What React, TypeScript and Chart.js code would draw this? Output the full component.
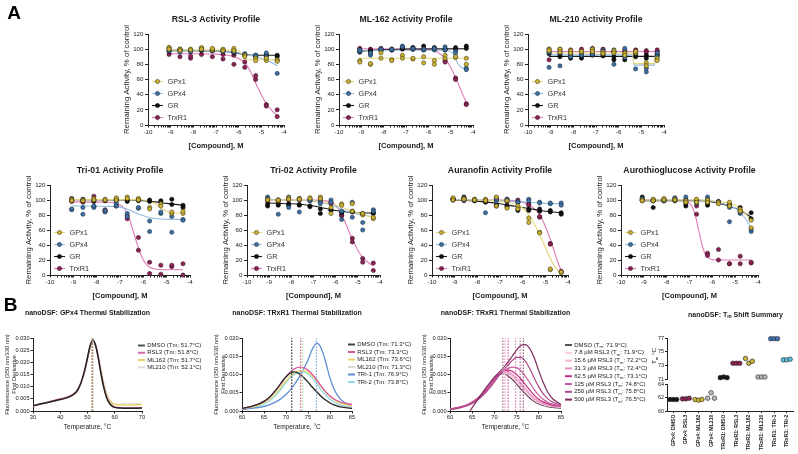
import React, { useEffect, useRef } from "react";
import { Chart, registerables } from "chart.js";

Chart.register(...registerables);

const PAGE_W = 798;
const PAGE_H = 454;
const FF = "'Liberation Sans', Arial, Helvetica, sans-serif";
const INK = "#1a1a1a";

// ================= Panel A data =================
const LOGC = [-9.07, -8.59, -8.12, -7.64, -7.16, -6.69, -6.21, -5.73, -5.25, -4.78, -4.3];
const ENZYMES = ["GPx1", "GPx4", "GR", "TrxR1"];
const ENZ_LINE = ["#e6d577", "#94bde3", "#1a1a1a", "#e07ab6"];
const ENZ_FILL = ["#c9b236", "#3f6f9f", "#111111", "#8b2355"];
const ENZ_EDGE = ["#4d4210", "#1c3550", "#000000", "#3d0d25"];
const X_MAJOR = [-10, -9, -8, -7, -6, -5, -4];
const X_MINOR_STEPS = [2, 3, 4, 5, 6, 7, 8, 9];
const Y_ACT_TICKS = [0, 20, 40, 60, 80, 100, 120];

// RSL-3
const RSL3_GPX1 = [[102, 100], [100, 98], [100, 99], [102, 100], [99, 101], [100, 98], [101, 98], [92, 90], [88, 85], [85, 88], [86, 84]];
const RSL3_GPX4 = [[100, 98], [96, 99], [98, 97], [101, 99], [98, 100], [97, 99], [96, 99], [94, 92], [90, 92], [95, 90], [68, 85]];
const RSL3_GR = [[99, 97], [98, 100], [99, 97], [100, 98], [98, 99], [97, 98], [96, 95], [93, 92], [92, 91], [93, 91], [92, 90]];
const RSL3_TRXR1 = [[93, 102], [90, 99], [88, 91], [93, 101], [90, 98], [87, 93], [80, 92], [76, 83], [60, 65], [27, 25], [11, 20]];
const RSL3_GPX1_FIT = [[-9.07, 99], [-8, 99], [-7, 99], [-6.3, 99], [-6.0, 98], [-5.85, 93], [-5.7, 87], [-5.5, 86], [-5, 86], [-4.3, 86]];
const RSL3_GPX4_FIT = [[-9.07, 99], [-8, 98.5], [-7, 97.5], [-6.5, 96.5], [-6, 95], [-5.5, 92], [-5, 88], [-4.6, 83], [-4.3, 78]];
const RSL3_GR_FIT = [[-9.07, 98], [-8, 98], [-7, 97.5], [-6.5, 96.5], [-6, 94.5], [-5.7, 93], [-5.3, 92], [-4.3, 92]];
const RSL3_TRXR1_FIT = [[-9.07, 94], [-8, 94], [-7, 93.5], [-6.5, 92], [-6.2, 90], [-5.9, 86], [-5.7, 81], [-5.5, 72], [-5.25, 55], [-5.0, 40], [-4.8, 29], [-4.5, 18], [-4.3, 13]];

// ML-162
const ML162_GPX1 = [[85, 83], [80, 81], [88, 95], [86, 85], [92, 88], [87, 88], [82, 90], [80, 85], [88, 92], [89, 90], [88, 80]];
const ML162_GPX4 = [[97, 99], [92, 95], [98, 100], [99, 100], [104, 103], [100, 101], [99, 100], [99, 101], [103, 99], [97, 95], [75, 73]];
const ML162_GR = [[96, 98], [95, 97], [98, 100], [99, 100], [101, 102], [102, 100], [104, 100], [101, 102], [99, 100], [100, 102], [104, 101]];
const ML162_TRXR1 = [[101, 100], [100, 99], [101, 100], [100, 99], [100, 101], [102, 100], [100, 99], [100, 101], [85, 83], [62, 60], [28, 27]];
const ML162_GPX1_FIT = [[-9.07, 88], [-6.5, 88], [-4.3, 88]];
const ML162_GPX4_FIT = [[-9.07, 98.5], [-5.5, 98.5], [-5.1, 98], [-4.9, 94], [-4.75, 85], [-4.6, 78], [-4.45, 75], [-4.3, 74.5]];
const ML162_GR_FIT = [[-9.07, 97], [-8.5, 98.5], [-8, 99.5], [-7, 100], [-4.3, 100.5]];
const ML162_TRXR1_FIT = [[-9.07, 100.5], [-6, 100], [-5.7, 98], [-5.4, 92], [-5.1, 81], [-4.9, 70], [-4.7, 57], [-4.5, 43], [-4.3, 30]];

// ML-210
const ML210_GPX1 = [[100, 98], [100, 96], [98, 95], [96, 97], [100, 97], [96, 94], [98, 95], [95, 92], [95, 97], [82, 78], [88, 85]];
const ML210_GPX4 = [[76, 96], [78, 95], [94, 90], [92, 96], [100, 93], [98, 95], [80, 99], [89, 101], [74, 95], [70, 75], [95, 90]];
const ML210_GR = [[94, 97], [90, 93], [88, 92], [88, 91], [92, 94], [91, 93], [86, 90], [86, 92], [90, 93], [92, 88], [94, 92]];
const ML210_TRXR1 = [[86, 100], [98, 100], [99, 96], [100, 96], [101, 99], [99, 100], [96, 97], [98, 96], [99, 98], [98, 96], [97, 99]];
const ML210_GPX1_FIT = [[-9.07, 95], [-5.45, 95], [-5.37, 94], [-5.33, 81], [-4.42, 81], [-4.38, 94], [-4.3, 95]];
const ML210_GPX4_FIT = [[-9.07, 92.5], [-5.45, 92.5], [-5.37, 91.5], [-5.33, 79], [-4.42, 79], [-4.38, 91.5], [-4.3, 92.5]];
const ML210_GR_FIT = [[-9.07, 90.5], [-6.5, 90.5], [-4.3, 90.5]];
const ML210_TRXR1_FIT = [[-9.07, 97], [-6.5, 97], [-4.3, 97]];

// Tri-01
const TRI01_GPX1 = [[101, 99], [100, 99], [102, 100], [101, 100], [103, 100], [104, 102], [102, 100], [90, 88], [95, 92], [82, 84], [82, 85]];
const TRI01_GPX4 = [[87, 88], [81, 90], [90, 92], [84, 86], [96, 92], [82, 78], [89, 90], [72, 58], [82, 84], [57, 78], [74, 73]];
const TRI01_GR = [[102, 100], [101, 99], [100, 98], [100, 99], [101, 100], [100, 98], [101, 99], [98, 100], [97, 99], [101, 94], [93, 90]];
const TRI01_TRXR1 = [[99, 98], [97, 99], [105, 91], [87, 85], [99, 92], [75, 79], [50, 33], [17, 2], [13, 1], [11, 13], [15, 0]];
const TRI01_GPX1_FIT = [[-9.07, 100.5], [-6.5, 100.5], [-6, 100], [-5.7, 98], [-5.4, 93], [-5.2, 88], [-5.0, 85], [-4.7, 83], [-4.3, 82.5]];
const TRI01_GPX4_FIT = [[-9.07, 92], [-7.5, 91.5], [-7, 90.5], [-6.7, 88], [-6.4, 84], [-6.1, 80], [-5.8, 77], [-5.4, 75], [-4.3, 74]];
const TRI01_GR_FIT = [[-9.07, 100.5], [-6.5, 100], [-6, 99], [-5.5, 97.5], [-5, 95.5], [-4.3, 93]];
const TRI01_TRXR1_FIT = [[-9.07, 97.5], [-7.5, 97], [-7.1, 95], [-6.8, 88], [-6.6, 75], [-6.4, 55], [-6.2, 35], [-6.0, 20], [-5.8, 12], [-5.5, 8], [-5, 7], [-4.3, 7]];

// Tri-02
const TRI02_GPX1 = [[101, 100], [99, 100], [103, 101], [102, 101], [103, 102], [104, 102], [90, 82], [95, 93], [95, 85], [80, 82], [75, 77]];
const TRI02_GPX4 = [[104, 102], [81, 100], [90, 104], [84, 102], [101, 99], [98, 95], [100, 97], [74, 85], [97, 77], [70, 60], [87, 85]];
const TRI02_GR = [[92, 95], [93, 95], [95, 93], [93, 94], [92, 91], [82, 88], [87, 86], [83, 84], [84, 85], [82, 81], [83, 82]];
const TRI02_TRXR1 = [[99, 100], [100, 98], [102, 100], [101, 100], [100, 99], [102, 99], [97, 95], [79, 80], [49, 44], [22, 17], [16, 6]];
const TRI02_GPX1_FIT = [[-9.07, 100], [-7.5, 100], [-7, 99], [-6.5, 97], [-6, 93], [-5.5, 88], [-5, 83], [-4.6, 79], [-4.3, 77]];
const TRI02_GPX4_FIT = [[-9.07, 101], [-8, 100], [-7, 98.5], [-6.5, 96], [-6, 91], [-5.5, 85], [-5, 81], [-4.6, 79], [-4.3, 78.5]];
const TRI02_GR_FIT = [[-9.07, 96], [-8, 95], [-7.5, 94], [-7, 92], [-6.5, 89], [-6, 86], [-5.5, 84], [-5, 83], [-4.3, 82.5]];
const TRI02_TRXR1_FIT = [[-9.07, 100], [-7, 100], [-6.5, 99], [-6.2, 97], [-6, 93], [-5.8, 84], [-5.6, 72], [-5.4, 58], [-5.2, 45], [-5.0, 33], [-4.8, 24], [-4.5, 16], [-4.3, 12]];

// Auranofin
const AUR_GPX1 = [[103, 100], [102, 101], [101, 100], [101, 99], [104, 92], [99, 89], [92, 88], [76, 70], [57, 56], [7, 8], [3, 4]];
const AUR_GPX4 = [[102, 101], [103, 100], [101, 100], [83, 100], [98, 101], [99, 101], [98, 97], [101, 99], [97, 96], [95, 96], [96, 93]];
const AUR_GR = [[101, 100], [104, 102], [100, 99], [98, 97], [93, 92], [91, 93], [88, 86], [88, 86], [85, 88], [84, 86], [83, 81]];
const AUR_TRXR1 = [[100, 101], [101, 99], [100, 99], [100, 98], [103, 101], [101, 98], [100, 97], [95, 93], [77, 78], [42, 41], [4, 5]];
const AUR_GPX1_FIT = [[-9.07, 100], [-7.5, 99.5], [-7, 98.5], [-6.5, 96], [-6.2, 93], [-6, 89], [-5.8, 83], [-5.6, 74], [-5.4, 63], [-5.2, 50], [-5.0, 37], [-4.8, 23], [-4.6, 12], [-4.4, 4], [-4.3, 1]];
const AUR_GPX4_FIT = [[-9.07, 101], [-8, 100], [-7, 99], [-6, 97.5], [-5, 95.5], [-4.3, 95]];
const AUR_GR_FIT = [[-9.07, 100], [-8, 98.5], [-7, 95], [-6.5, 92.5], [-6, 90], [-5.5, 87.5], [-5, 85], [-4.3, 83]];
const AUR_TRXR1_FIT = [[-9.07, 100], [-7, 100], [-6.3, 99], [-6, 97], [-5.7, 93], [-5.4, 86], [-5.2, 78], [-5.0, 65], [-4.8, 49], [-4.6, 31], [-4.45, 17], [-4.3, 6]];

// Aurothioglucose
const ATG_GPX1 = [[100, 99], [101, 99], [102, 100], [101, 100], [99, 97], [101, 97], [100, 97], [97, 95], [97, 92], [88, 85], [73, 63]];
const ATG_GPX4 = [[102, 100], [100, 99], [101, 99], [103, 101], [104, 100], [99, 96], [104, 101], [98, 96], [71, 90], [82, 84], [58, 61]];
const ATG_GR = [[104, 100], [90, 99], [99, 100], [100, 99], [92, 95], [100, 96], [93, 96], [96, 98], [92, 94], [90, 85], [83, 75]];
const ATG_TRXR1 = [[101, 99], [99, 100], [100, 99], [102, 100], [100, 98], [92, 81], [29, 26], [34, 20], [15, 15], [25, 15], [16, 17]];
const ATG_GPX1_FIT = [[-9.07, 100], [-6.5, 100], [-6, 99], [-5.5, 97], [-5, 93], [-4.7, 87], [-4.5, 80], [-4.3, 72]];
const ATG_GPX4_FIT = [[-9.07, 100], [-6.5, 100], [-6, 98.5], [-5.5, 95], [-5, 89], [-4.7, 81], [-4.5, 73], [-4.3, 62]];
const ATG_GR_FIT = [[-9.07, 99], [-6.5, 99], [-6, 97.5], [-5.5, 94], [-5, 89], [-4.7, 85], [-4.5, 81], [-4.3, 77]];
const ATG_TRXR1_FIT = [[-9.07, 100], [-7.5, 100], [-7.1, 98], [-6.9, 92], [-6.75, 80], [-6.6, 60], [-6.45, 40], [-6.3, 27], [-6.1, 21.5], [-5.8, 20], [-4.3, 20]];

// ================= Panel B data =================
const GPX4_DSF_NAMES = ["DMSO (Tm: 51.7°C)", "RSL3 (Tm: 51.8°C)", "ML162 (Tm: 51.7°C)", "ML210 (Tm: 52.1°C)"];
const GPX4_DSF_COLORS = ["#222222", "#d66aa8", "#e8d060", "#d0d0d0"];
const GPX4_TM = [51.7, 51.8, 51.7, 52.1];
const GPX4_TM_COLORS = ["#555555", "#a82860", "#cfb23a", "#bbbbbb"];
const T_GPX4 = [30, 34, 38, 42, 44, 46, 47, 48, 49, 50, 51, 52, 53, 54, 55, 56, 57, 58, 59, 60, 62, 65, 70];
const GPX4_DMSO = [0.0022, 0.0032, 0.0042, 0.0053, 0.0062, 0.008, 0.01, 0.013, 0.017, 0.022, 0.027, 0.0292, 0.0268, 0.0215, 0.015, 0.0095, 0.0055, 0.0032, 0.002, 0.0015, 0.0012, 0.0011, 0.0012];
const GPX4_RSL3 = [0.002, 0.0032, 0.0045, 0.0056, 0.0064, 0.008, 0.0098, 0.0127, 0.0165, 0.0215, 0.0265, 0.0288, 0.0268, 0.0218, 0.0155, 0.01, 0.006, 0.0036, 0.0023, 0.0017, 0.0014, 0.0013, 0.0014];
const GPX4_ML162 = [0.0021, 0.0031, 0.0042, 0.0053, 0.0061, 0.0078, 0.0097, 0.0126, 0.0166, 0.0216, 0.0266, 0.0289, 0.027, 0.0222, 0.016, 0.0106, 0.0067, 0.0044, 0.0032, 0.0027, 0.0025, 0.0025, 0.0026];
const GPX4_ML210 = [0.0022, 0.0031, 0.0041, 0.0052, 0.006, 0.0076, 0.0094, 0.0122, 0.016, 0.0208, 0.0258, 0.0284, 0.0275, 0.0232, 0.0172, 0.0117, 0.0075, 0.005, 0.0036, 0.003, 0.0028, 0.0032, 0.003];

const TRX_DSF_NAMES = ["DMSO (Tm: 71.3°C)", "RSL3 (Tm: 73.3°C)", "ML162 (Tm: 73.6°C)", "ML210 (Tm: 71.3°C)", "TRi-1 (Tm: 76.9°C)", "TRi-2 (Tm: 73.8°C)"];
const TRX_DSF_COLORS = ["#2b2b2b", "#d9579f", "#e9d36a", "#cfcfcf", "#5f8fd3", "#8fdcee"];
const TRX_TM = [71.3, 73.3, 73.6, 71.3, 76.9, 73.8];
const T_TRX = [60, 62, 64, 66, 68, 69, 70, 71, 72, 73, 74, 75, 76, 77, 78, 79, 80, 81, 82, 83, 85];
const TRX_DMSO = [0.0007, 0.0012, 0.002, 0.0035, 0.0062, 0.0079, 0.0094, 0.0104, 0.0107, 0.0102, 0.0092, 0.0079, 0.0065, 0.0052, 0.004, 0.003, 0.0022, 0.0016, 0.0012, 0.001, 0.0007];
const TRX_RSL3 = [0.0007, 0.0012, 0.002, 0.0035, 0.0062, 0.0078, 0.0094, 0.0107, 0.0116, 0.012, 0.0119, 0.0112, 0.01, 0.0085, 0.0068, 0.0053, 0.0041, 0.0032, 0.0026, 0.0022, 0.0018];
const TRX_ML162 = [0.0006, 0.001, 0.0017, 0.003, 0.0053, 0.0068, 0.0083, 0.0096, 0.0105, 0.011, 0.0111, 0.0106, 0.0096, 0.0082, 0.0066, 0.0051, 0.0039, 0.003, 0.0023, 0.0019, 0.0015];
const TRX_ML210 = [0.0007, 0.0012, 0.0019, 0.0034, 0.006, 0.0076, 0.0092, 0.0102, 0.0105, 0.0101, 0.0092, 0.008, 0.0066, 0.0053, 0.0041, 0.0031, 0.0023, 0.0018, 0.0014, 0.0012, 0.001];
const TRX_TRI1 = [0.0004, 0.0007, 0.001, 0.0016, 0.0027, 0.0035, 0.0045, 0.0058, 0.0074, 0.0093, 0.0115, 0.014, 0.017, 0.0186, 0.0172, 0.0135, 0.009, 0.0058, 0.0038, 0.0026, 0.0015];
const TRX_TRI2 = [0.0005, 0.0008, 0.0014, 0.0026, 0.0047, 0.0062, 0.0078, 0.0092, 0.0101, 0.0106, 0.0107, 0.0101, 0.009, 0.0075, 0.0058, 0.0044, 0.0032, 0.0024, 0.0018, 0.0015, 0.0012];

const DOSE_NAMES = ["DMSO (T_{m}: 71.9°C)", "7.8 µM RSL3 (T_{m}: 71.9°C)", "15.6 µM RSL3 (T_{m}: 72.2°C)", "31.3 µM RSL3 (T_{m}: 72.4°C)", "62.5 µM RSL3 (T_{m}: 73.1°C)", "125 µM RSL3 (T_{m}: 74.8°C)", "250 µM RSL3 (T_{m}: 75.8°C)", "500 µM RSL3 (T_{m}: 76.5°C)"];
const DOSE_COLORS = ["#4d3345", "#f7cfe3", "#f1b3d3", "#e894c3", "#c92b7f", "#c35f9f", "#a84887", "#7d2c5c"];
const DOSE_TM = [71.9, 71.9, 72.2, 72.4, 73.1, 74.8, 75.8, 76.5];
const T_500 = [64.5, 66, 68, 69, 70, 71, 72, 73, 74, 75, 76, 77, 78, 79, 80, 81, 82, 83, 85];
const DOSE_DMSO = [0.0005, 0.001, 0.0018, 0.0033, 0.0058, 0.0073, 0.0088, 0.0099, 0.0102, 0.0097, 0.0087, 0.0074, 0.006, 0.0047, 0.0035, 0.0026, 0.0019, 0.0015, 0.0012, 0.001, 0.0008];
const DOSE_7_8 = [0.0005, 0.001, 0.0018, 0.0033, 0.0058, 0.0073, 0.0089, 0.01, 0.0104, 0.01, 0.0091, 0.0078, 0.0064, 0.0051, 0.0039, 0.0029, 0.0022, 0.0017, 0.0014, 0.0012, 0.001];
const DOSE_15_6 = [0.0005, 0.001, 0.0018, 0.0033, 0.0058, 0.0073, 0.0089, 0.0101, 0.0106, 0.0104, 0.0096, 0.0084, 0.007, 0.0056, 0.0043, 0.0032, 0.0024, 0.0019, 0.0015, 0.0013, 0.0011];
const DOSE_31_3 = [0.0005, 0.001, 0.0018, 0.0033, 0.0057, 0.0072, 0.0088, 0.0101, 0.0108, 0.0107, 0.0101, 0.009, 0.0076, 0.0061, 0.0047, 0.0035, 0.0027, 0.0021, 0.0017, 0.0014, 0.0012];
const DOSE_62_5 = [0.0005, 0.001, 0.0017, 0.0032, 0.0056, 0.0071, 0.0087, 0.01, 0.0109, 0.0112, 0.0109, 0.01, 0.0087, 0.0072, 0.0057, 0.0043, 0.0032, 0.0025, 0.002, 0.0016, 0.0013];
const DOSE_125 = [0.0004, 0.0009, 0.0016, 0.003, 0.0053, 0.0068, 0.0084, 0.0098, 0.0109, 0.0116, 0.012, 0.0119, 0.011, 0.0095, 0.0077, 0.0058, 0.0043, 0.0032, 0.0024, 0.0019, 0.0015];
const DOSE_250 = [0.0004, 0.0008, 0.0015, 0.0028, 0.005, 0.0064, 0.008, 0.0096, 0.0111, 0.0125, 0.0138, 0.0147, 0.0147, 0.0136, 0.0115, 0.009, 0.0066, 0.0047, 0.0034, 0.0025, 0.0017];
const DOSE_500 = [0, 0.0027, 0.0062, 0.0078, 0.0093, 0.0105, 0.0118, 0.0133, 0.015, 0.0167, 0.018, 0.0182, 0.017, 0.0145, 0.011, 0.0078, 0.0052, 0.0035, 0.0018];

const SUMMARY_CATS = ["GPx4: DMSO", "GPx4: RSL3", "GPx4: ML162", "GPx4: ML210", "TRxR1: DMSO", "TRxR1: RSL3", "TRxR1: ML162", "TRxR1: ML210", "TRxR1: TRi-1", "TRxR1: TRi-2"];
const SUMMARY_TM = [[61.7, 61.7, 61.7], [61.8, 61.8, 61.9], [61.7, 61.6, 61.7], [61.9, 62.7, 61.9], [71.2, 71.3, 71.2], [73.3, 73.3, 73.3], [74.0, 73.3, 73.6], [71.3, 71.3, 71.3], [76.9, 76.9, 76.9], [73.8, 73.8, 73.9]];
const SUMMARY_FILL = ["#151515", "#8b2355", "#c9b236", "#b8b8b8", "#151515", "#8b2355", "#c9b236", "#b8b8b8", "#3f74b5", "#5cc0dc"];
const JITTER = [-0.27, 0, 0.27];

// ================= helpers =================
type Part = { t: string; sub?: boolean };
function parseRich(s: string): Part[] {
  const parts: Part[] = [];
  const re = /_\{([^}]*)\}/g;
  let last = 0;
  let m: RegExpExecArray | null;
  while ((m = re.exec(s))) {
    if (m.index > last) parts.push({ t: s.slice(last, m.index) });
    parts.push({ t: m[1], sub: true });
    last = re.lastIndex;
  }
  if (last < s.length) parts.push({ t: s.slice(last) });
  return parts;
}

function drawRich(ctx: any, text: string, x: number, y: number, size: number, bold: boolean, color: string, align: string, rotate: number) {
  const parts = parseRich(text);
  ctx.save();
  ctx.translate(x, y);
  if (rotate) ctx.rotate(rotate);
  ctx.fillStyle = color;
  ctx.textBaseline = "middle";
  ctx.textAlign = "left";
  const fontOf = (p: Part) => `${bold ? "bold " : ""}${p.sub ? size * 0.7 : size}px ${FF}`;
  let total = 0;
  for (const p of parts) {
    ctx.font = fontOf(p);
    total += ctx.measureText(p.t).width;
  }
  let cx = align === "center" ? -total / 2 : align === "right" ? -total : 0;
  for (const p of parts) {
    ctx.font = fontOf(p);
    ctx.fillText(p.t, cx, p.sub ? size * 0.3 : 0);
    cx += ctx.measureText(p.t).width;
  }
  ctx.restore();
}

function overlay(texts: any[], legends: any[]) {
  return {
    id: "overlay",
    afterDraw(chart: any) {
      const ctx = chart.ctx;
      for (const it of legends) {
        ctx.save();
        ctx.strokeStyle = it.color;
        ctx.lineWidth = it.width;
        ctx.setLineDash(it.dash || []);
        ctx.beginPath();
        ctx.moveTo(it.x, it.y);
        ctx.lineTo(it.x + it.len, it.y);
        ctx.stroke();
        ctx.setLineDash([]);
        if (it.marker) {
          ctx.beginPath();
          ctx.arc(it.x + it.len / 2, it.y, it.marker.r, 0, Math.PI * 2);
          ctx.fillStyle = it.marker.fill;
          ctx.fill();
          ctx.lineWidth = 0.6;
          ctx.strokeStyle = it.marker.edge;
          ctx.stroke();
        }
        ctx.restore();
        drawRich(ctx, it.text, it.x + it.len + it.gap, it.y, it.size, false, it.textColor || "#333", "left", 0);
      }
      for (const t of texts) drawRich(ctx, t.text, t.x, t.y, t.size, !!t.bold, t.color || INK, t.align || "center", t.rotate || 0);
    },
  };
}

const BASE = {
  responsive: false,
  maintainAspectRatio: false,
  animation: false,
  devicePixelRatio: 1,
  events: [],
  plugins: { legend: { display: false }, tooltip: { enabled: false }, title: { display: false } },
};
const GRID = { display: true, drawOnChartArea: false, drawTicks: true, tickLength: 3, color: "#222", lineWidth: 1 };
const BORDER = { display: true, color: "#222", width: 1 };

// ================= Panel A configs =================
function activityConfig(p: any) {
  const { l, r, t, b } = p.area;
  const datasets: any[] = [];
  ENZYMES.forEach((name, k) => {
    datasets.push({
      label: name,
      data: p.pts[k].flatMap((reps: number[], i: number) => reps.map((y) => ({ x: LOGC[i], y }))),
      showLine: false,
      pointRadius: 2.1,
      pointBackgroundColor: ENZ_FILL[k],
      pointBorderColor: ENZ_EDGE[k],
      pointBorderWidth: 0.6,
      order: 1,
      clip: false,
    });
    datasets.push({
      label: name + " fit",
      data: p.fits[k].map(([x, y]: number[]) => ({ x, y })),
      borderColor: ENZ_LINE[k],
      borderWidth: 1.1,
      pointRadius: 0,
      cubicInterpolationMode: "monotone",
      order: 2,
      clip: false,
    });
  });
  const legends = ENZYMES.map((name, k) => ({
    x: l + 4, y: t + 47.5 + 12 * k, len: 11, color: ENZ_LINE[k], width: 1.1,
    marker: { fill: ENZ_FILL[k], edge: ENZ_EDGE[k], r: 2.1 }, text: name, size: 7.3, gap: 4.5,
  }));
  const texts = [{ text: p.title, x: (l + r) / 2, y: t - 14, size: 8.7, bold: true }, ...(p.extra || [])];
  const yW = 25.7;
  const xH = 25.5;
  return {
    type: "line",
    data: { datasets },
    options: {
      ...BASE,
      layout: { padding: { left: l - yW, right: PAGE_W - r, top: t, bottom: PAGE_H - b - xH } },
      scales: {
        x: {
          type: "linear", min: -10, max: -4,
          afterBuildTicks: (s: any) => {
            const vals: number[] = [];
            X_MAJOR.forEach((v, i) => {
              vals.push(v);
              if (i < X_MAJOR.length - 1) X_MINOR_STEPS.forEach((k) => vals.push(v + Math.log10(k)));
            });
            s.ticks = vals.map((value) => ({ value }));
          },
          ticks: { autoSkip: false, maxRotation: 0, minRotation: 0, padding: 1.5, color: INK, font: { family: FF, size: 6.2 }, callback: (v: number) => (Number.isInteger(v) ? String(v) : "") },
          grid: { ...GRID, tickLength: 2.5 },
          border: BORDER,
          title: { display: true, text: "[Compound], M", color: INK, padding: 0, font: { family: FF, size: 7.5, weight: "bold" } },
          afterFit: (s: any) => { s.height = xH; },
        },
        y: {
          type: "linear", min: 0, max: 120,
          afterBuildTicks: (s: any) => { s.ticks = Y_ACT_TICKS.map((value) => ({ value })); },
          ticks: { padding: 1.5, color: INK, font: { family: FF, size: 6.2 } },
          grid: GRID,
          border: BORDER,
          title: { display: true, text: "Remaining Activity, % of control", color: INK, padding: 0, font: { family: FF, size: 7.8 } },
          afterFit: (s: any) => { s.width = yW; },
        },
      },
    },
    plugins: [overlay(texts, [])].concat([overlay([], legends)]),
  };
}

const ACTIVITY_PANELS = [
  { title: "RSL-3 Activity Profile", area: { l: 148, r: 284, t: 34, b: 125 }, pts: [RSL3_GPX1, RSL3_GPX4, RSL3_GR, RSL3_TRXR1], fits: [RSL3_GPX1_FIT, RSL3_GPX4_FIT, RSL3_GR_FIT, RSL3_TRXR1_FIT], extra: [{ text: "A", x: 14, y: 14, size: 19, bold: true, color: "#000" }] },
  { title: "ML-162 Activity Profile", area: { l: 339, r: 473, t: 34, b: 125 }, pts: [ML162_GPX1, ML162_GPX4, ML162_GR, ML162_TRXR1], fits: [ML162_GPX1_FIT, ML162_GPX4_FIT, ML162_GR_FIT, ML162_TRXR1_FIT] },
  { title: "ML-210 Activity Profile", area: { l: 528, r: 664, t: 34, b: 125 }, pts: [ML210_GPX1, ML210_GPX4, ML210_GR, ML210_TRXR1], fits: [ML210_GPX1_FIT, ML210_GPX4_FIT, ML210_GR_FIT, ML210_TRXR1_FIT] },
  { title: "Tri-01 Activity Profile", area: { l: 50, r: 190, t: 185, b: 275 }, pts: [TRI01_GPX1, TRI01_GPX4, TRI01_GR, TRI01_TRXR1], fits: [TRI01_GPX1_FIT, TRI01_GPX4_FIT, TRI01_GR_FIT, TRI01_TRXR1_FIT] },
  { title: "Tri-02 Activity Profile", area: { l: 247, r: 380, t: 185, b: 275 }, pts: [TRI02_GPX1, TRI02_GPX4, TRI02_GR, TRI02_TRXR1], fits: [TRI02_GPX1_FIT, TRI02_GPX4_FIT, TRI02_GR_FIT, TRI02_TRXR1_FIT] },
  { title: "Auranofin Activity Profile", area: { l: 432, r: 568, t: 185, b: 275 }, pts: [AUR_GPX1, AUR_GPX4, AUR_GR, AUR_TRXR1], fits: [AUR_GPX1_FIT, AUR_GPX4_FIT, AUR_GR_FIT, AUR_TRXR1_FIT] },
  { title: "Aurothioglucose Activity Profile", area: { l: 621, r: 758, t: 185, b: 275 }, pts: [ATG_GPX1, ATG_GPX4, ATG_GR, ATG_TRXR1], fits: [ATG_GPX1_FIT, ATG_GPX4_FIT, ATG_GR_FIT, ATG_TRXR1_FIT] },
];

// ================= Panel B configs =================
function dsfConfig(p: any) {
  const { l, r, t, b } = p.area;
  const datasets: any[] = [];
  p.series.forEach((s: any) => {
    datasets.push({
      data: s.T.map((x: number, i: number) => ({ x, y: s.y[i] })),
      borderColor: s.color, borderWidth: s.width || 1.3, borderDash: s.dash || [],
      pointRadius: 0, cubicInterpolationMode: "monotone", order: s.order || 2,
    });
  });
  p.tms.forEach((m: any) => {
    datasets.push({
      data: [{ x: m.tm, y: 0 }, { x: m.tm, y: p.yMax }],
      borderColor: m.color, borderWidth: 0.9, borderDash: [1.6, 1.4], pointRadius: 0, order: 1,
    });
  });
  const legends = p.legendNames.map((name: string, k: number) => ({
    x: p.legend.x, y: p.legend.y + p.legend.dy * k, len: 7, color: p.legendColors[k], width: 2,
    text: name, size: 6, gap: 2.2, textColor: "#222",
  }));
  const texts = [{ text: p.title, x: (l + r) / 2, y: t - 25, size: 7, bold: true }, ...(p.extra || [])];
  const yW = 29.5;
  const xH = 19.9;
  return {
    type: "line",
    data: { datasets },
    options: {
      ...BASE,
      layout: { padding: { left: l - yW, right: PAGE_W - r, top: t, bottom: PAGE_H - b - xH } },
      scales: {
        x: {
          type: "linear", min: p.xMin, max: p.xMax,
          ticks: { stepSize: p.xStep, autoSkip: false, maxRotation: 0, padding: 1, color: INK, font: { family: FF, size: 5.7 } },
          grid: { ...GRID, tickLength: 2.5 },
          border: BORDER,
          title: { display: true, text: "Temperature, °C", color: INK, padding: 0, font: { family: FF, size: 6.5 } },
          afterFit: (s: any) => { s.height = xH; },
        },
        y: {
          type: "linear", min: 0, max: p.yMax,
          ticks: { stepSize: 0.005, padding: 1, color: INK, font: { family: FF, size: 5.6 }, callback: (v: number) => v.toFixed(3) },
          grid: { ...GRID, tickLength: 2.5 },
          border: BORDER,
          title: { display: true, text: ["Fluorescence (350 nm/330 nm)", "First Derivative"], color: INK, padding: 0, font: { family: FF, size: 5.8 } },
          afterFit: (s: any) => { s.width = yW; },
        },
      },
    },
    plugins: [overlay(texts, legends)],
  };
}

const GPX4_SERIES = [
  { T: T_GPX4, y: GPX4_DMSO, color: GPX4_DSF_COLORS[0], width: 1.5, order: 2 },
  { T: T_GPX4, y: GPX4_RSL3, color: GPX4_DSF_COLORS[1], width: 1.3, order: 3 },
  { T: T_GPX4, y: GPX4_ML162, color: GPX4_DSF_COLORS[2], width: 1.3, order: 4 },
  { T: T_GPX4, y: GPX4_ML210, color: "#c4c4c4", width: 1.1, dash: [1.5, 1.2], order: 5 },
];
const TRX_SERIES = [TRX_DMSO, TRX_RSL3, TRX_ML162, TRX_ML210, TRX_TRI1, TRX_TRI2].map((y, i) => ({ T: T_TRX, y, color: TRX_DSF_COLORS[i], width: 1.3, order: 2 + i }));
const DOSE_SERIES = [DOSE_DMSO, DOSE_7_8, DOSE_15_6, DOSE_31_3, DOSE_62_5, DOSE_125, DOSE_250, DOSE_500].map((y, i) => ({ T: i === 7 ? T_500 : T_TRX, y, color: DOSE_COLORS[i], width: 1.2, order: 2 + (7 - i) }));

function summaryConfig(part: "top" | "bottom") {
  const top = part === "top";
  const area = top ? { l: 667, r: 793, t: 338, b: 379 } : { l: 667, r: 793, t: 384, b: 411 };
  const yW = 12;
  const xH = top ? 0 : PAGE_H - area.b;
  const datasets = SUMMARY_TM.map((vals, i) => ({
    data: vals.map((y, j) => ({ x: i + JITTER[j], y })),
    showLine: false, pointRadius: 2.3, pointBackgroundColor: SUMMARY_FILL[i], pointBorderColor: "#222", pointBorderWidth: 0.6, clip: 4,
  }));
  const texts = top
    ? [
        { text: "nanoDSF: T_{m} Shift Summary", x: 735.5, y: 315, size: 7, bold: true },
        { text: "T_{m} °C", x: 654.5, y: 356, size: 6.2, bold: false, rotate: -Math.PI / 2 },
      ]
    : [];
  return {
    type: "line",
    data: { datasets },
    options: {
      ...BASE,
      layout: { padding: { left: area.l - yW, right: PAGE_W - area.r, top: area.t, bottom: PAGE_H - area.b - xH } },
      scales: {
        x: {
          type: "linear", min: -0.5, max: SUMMARY_CATS.length - 0.5, display: !top,
          afterBuildTicks: (s: any) => { s.ticks = SUMMARY_CATS.map((_, i) => ({ value: i })); },
          ticks: { autoSkip: false, maxRotation: 90, minRotation: 90, padding: 1.5, color: INK, font: { family: FF, size: 5.2, weight: "bold" }, callback: (v: number) => SUMMARY_CATS[v] ?? "" },
          grid: { ...GRID, tickLength: 2 },
          border: BORDER,
          afterFit: (s: any) => { s.height = xH; },
        },
        y: {
          type: "linear", min: top ? 71 : 60, max: top ? 77 : 64,
          ticks: { stepSize: 1, padding: 1, color: INK, font: { family: FF, size: 5.5 } },
          grid: { ...GRID, tickLength: 2 },
          border: BORDER,
          afterFit: (s: any) => { s.width = yW; },
        },
      },
    },
    plugins: [overlay(texts, [])],
  };
}

const CONFIG_BUILDERS: Array<() => any> = [
  ...ACTIVITY_PANELS.map((p) => () => activityConfig(p)),
  () => dsfConfig({
    title: "nanoDSF: GPx4 Thermal Stabilization", area: { l: 33, r: 142, t: 338, b: 411 },
    xMin: 30, xMax: 70, xStep: 10, yMax: 0.03, series: GPX4_SERIES,
    tms: GPX4_TM.map((tm, i) => ({ tm, color: GPX4_TM_COLORS[i] })).reverse(),
    legend: { x: 138, y: 345.5, dy: 7.3 }, legendNames: GPX4_DSF_NAMES, legendColors: ["#555555", "#d66aa8", "#e8d060", "#dddddd"],
    extra: [{ text: "B", x: 10.5, y: 305.5, size: 19, bold: true, color: "#000" }],
  }),
  () => dsfConfig({
    title: "nanoDSF: TRxR1 Thermal Stabilization", area: { l: 242, r: 352, t: 338, b: 411 },
    xMin: 60, xMax: 85, xStep: 5, yMax: 0.02, series: TRX_SERIES,
    tms: TRX_TM.map((tm, i) => ({ tm, color: TRX_DSF_COLORS[i] === "#cfcfcf" ? "#999999" : TRX_DSF_COLORS[i] })),
    legend: { x: 348, y: 344.5, dy: 7.5 }, legendNames: TRX_DSF_NAMES, legendColors: ["#444444", "#d9579f", "#e9d36a", "#d6d6d6", "#5f8fd3", "#8fdcee"],
  }),
  () => dsfConfig({
    title: "nanoDSF: TRxR1 Thermal Stabilization", area: { l: 450, r: 561, t: 338, b: 411 },
    xMin: 60, xMax: 85, xStep: 5, yMax: 0.02, series: DOSE_SERIES,
    tms: DOSE_TM.map((tm, i) => ({ tm, color: i === 0 ? "#9a6a88" : DOSE_COLORS[i] })),
    legend: { x: 565, y: 345, dy: 7.8 }, legendNames: DOSE_NAMES, legendColors: DOSE_COLORS.map((c, i) => (i === 0 ? "#555555" : c)),
  }),
  () => summaryConfig("top"),
  () => summaryConfig("bottom"),
];

function ChartLayer({ build }: { build: () => any }) {
  const ref = useRef<HTMLCanvasElement | null>(null);
  useEffect(() => {
    const chart = new Chart(ref.current as HTMLCanvasElement, build());
    return () => chart.destroy();
  }, [build]);
  return <canvas ref={ref} width={PAGE_W} height={PAGE_H} style={{ position: "absolute", left: 0, top: 0, width: PAGE_W, height: PAGE_H }} />;
}

export default function App() {
  return (
    <div style={{ position: "fixed", left: 0, top: 0, width: PAGE_W, height: PAGE_H, background: "#ffffff", overflow: "hidden" }}>
      {CONFIG_BUILDERS.map((b, i) => (
        <ChartLayer key={i} build={b} />
      ))}
    </div>
  );
}
